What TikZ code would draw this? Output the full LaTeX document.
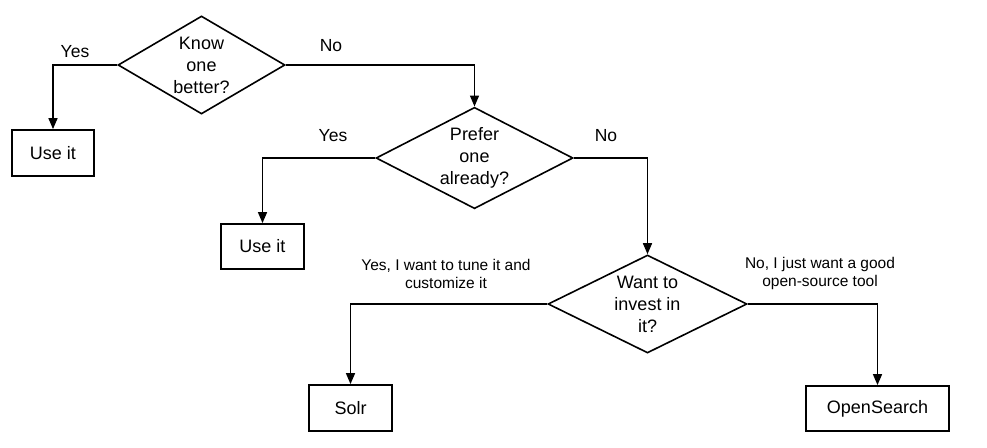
\documentclass[tikz,border=0pt]{standalone}
\usepackage{fontspec}
\setmainfont{Liberation Sans}
\usetikzlibrary{shapes.geometric,arrows.meta}
\begin{document}
\begin{tikzpicture}[x=1pt,y=-1pt,
 dec/.style={diamond,draw,line width=1.6pt,inner sep=0pt,aspect=1.7,align=center,font=\fontsize{18}{22}\selectfont},
 res/.style={draw,line width=1.8pt,inner sep=0pt,font=\fontsize{18}{22}\selectfont},
 conn/.style={line width=1.5pt,-{Triangle[length=11pt,width=9pt]}},
 lbl/.style={font=\fontsize{17.5}{21}\selectfont,inner sep=0pt},
 slbl/.style={font=\fontsize{15.5}{18}\selectfont,align=center,inner sep=0pt}]
\useasboundingbox[fill=white] (0,0) rectangle (987,447);
% decisions
\node[dec, minimum width=167pt, minimum height=98pt] (d1) at (201.5,65) {Know\\one\\better?};
\node[dec, minimum width=197pt, minimum height=99pt] (d2) at (474.5,158) {Prefer\\one\\already?};
\node[dec, minimum width=199pt, minimum height=98pt] (d3) at (647.5,304) {Want to\\invest in\\it?};
% results
\node[res, minimum width=82pt, minimum height=46pt] (u1) at (53,153) {Use it};
\node[res, minimum width=83pt, minimum height=45pt] (u2) at (262.5,246.5) {Use it};
\node[res, minimum width=83pt, minimum height=46pt] (solr) at (350.5,408) {Solr};
\node[res, minimum width=143pt, minimum height=45pt] (os) at (877.5,408.5) {OpenSearch};
% connectors
\draw[conn] (d1.west) -| (u1.north);
\draw[conn] (d1.east) -| (d2.north);
\draw[conn] (d2.west) -| (u2.north);
\draw[conn] (d2.east) -| (d3.north);
\draw[conn] (d3.west) -| (solr.north);
\draw[conn] (d3.east) -| (os.north);
% labels
\node[lbl] (y1) at (75,52) {Yes};
\node[lbl] (n1) at (331,46) {No};
\node[lbl] (y2) at (333,136) {Yes};
\node[lbl] (n2) at (606,136) {No};
\node[slbl] (y3) at (446,273.5) {Yes, I want to tune it and\\customize it};
\node[slbl] (n3) at (820,273.5) {No, I just want a good\\open-source tool};
\end{tikzpicture}
\end{document}
